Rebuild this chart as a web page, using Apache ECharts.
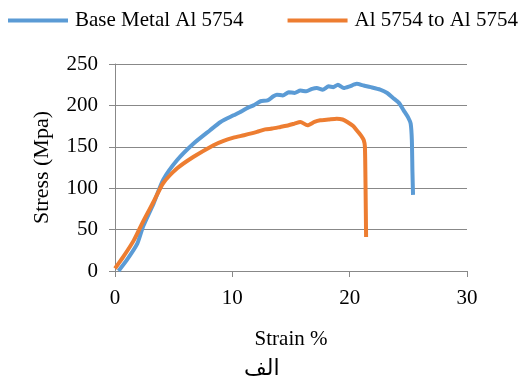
<!DOCTYPE html>
<html><head><meta charset="utf-8">
<script src="https://cdn.jsdelivr.net/npm/echarts@6/dist/echarts.min.js"></script>
<style>html,body{margin:0;padding:0;background:#fff}#c{width:527px;height:385px}</style>
</head><body><div id="c"></div>
<script>
var seriesNames = ["Base Metal Al 5754", "Al 5754 to Al 5754"];
var baseStrain = [0.3,1.0,1.9,2.4,3.3,4.1,5.3,6.7,8.1,9.0,10.1,10.8,11.3,11.8,12.4,13.0,13.5,13.8,14.3,14.8,15.3,15.8,16.3,16.8,17.2,17.7,18.2,18.6,19.0,19.5,20.0,20.6,21.2,21.8,22.6,23.2,23.7,24.2,24.6,25.0,25.2,25.3,25.35,25.4];
var baseStress = [0,13,33,54,82,110,134,154,170,180,188,193,197,200,205,206,211,213,212,216,215,218,217,220,221,219,223,222,225,221,223,226,224,222,219,215,209,203,194,185,178,158,120,92];
var weldStrain = [0,0.7,1.6,2.4,3.3,4.1,5.3,6.7,8.4,9.2,10.1,11.0,12.1,12.8,13.4,14.1,14.8,15.3,15.8,16.4,17.0,17.5,18.2,18.9,19.4,19.8,20.3,20.6,21.0,21.2,21.3,21.35,21.4];
var weldStress = [3,17,37,60,84,106,124,138,152,157,161,164,168,171,172,174,176,178,180,176,180,182,183,184,183,180,175,170,163,158,150,106,41];
var xTicks = [0,10,20,30];
var yTicks = [0,50,100,150,200,250];
var xTitle = "Strain %", yTitle = "Stress (Mpa)", caption = "الف";

function pairs(xs, ys){ return xs.map(function(x,i){ return [x, ys[i]]; }); }
var serif = "'Liberation Serif','Times New Roman',serif";
var chart = echarts.init(document.getElementById('c'));
chart.setOption({
  animation:false,
  backgroundColor:'#fff',
  color:['#5B9BD5','#ED7D31'],
  legend:{
    top:10, left:8, width:519, padding:0, itemGap:44, itemWidth:60, itemHeight:4,
    icon:'rect',
    textStyle:{fontFamily:serif, fontSize:21, color:'#000', padding:[0,0,0,2]},
    data:seriesNames
  },
  grid:{left:115, right:60, top:64, bottom:114},
  xAxis:{
    type:'value', min:xTicks[0], max:xTicks[xTicks.length-1], interval:10,
    name:xTitle, nameLocation:'middle', nameGap:58,
    nameTextStyle:{fontFamily:serif, fontSize:21, color:'#000'},
    axisLine:{show:true, lineStyle:{color:'#888', width:1}},
    axisTick:{show:true, length:6, lineStyle:{color:'#888'}},
    axisLabel:{fontFamily:serif, fontSize:21, color:'#000', margin:17},
    splitLine:{show:false}
  },
  yAxis:{
    type:'value', min:yTicks[0], max:yTicks[yTicks.length-1], interval:50,
    name:yTitle, nameLocation:'middle', nameGap:62,
    nameTextStyle:{fontFamily:serif, fontSize:22, color:'#000'},
    axisLine:{show:true, lineStyle:{color:'#888', width:1}},
    axisTick:{show:true, length:6, lineStyle:{color:'#888'}},
    axisLabel:{fontFamily:serif, fontSize:21, color:'#000', margin:17},
    splitLine:{show:true, lineStyle:{color:'#888', width:1}}
  },
  graphic:[{type:'text', left:244, top:358, style:{text:caption, font:"22px 'DejaVu Sans'", fill:'#000'}}],
  series:[
    {name:seriesNames[0], type:'line', showSymbol:false, smooth:0.2, data:pairs(baseStrain, baseStress), lineStyle:{width:4}, z:2},
    {name:seriesNames[1], type:'line', showSymbol:false, smooth:0.2, data:pairs(weldStrain, weldStress), lineStyle:{width:4}, z:3}
  ]
});
</script></body></html>
